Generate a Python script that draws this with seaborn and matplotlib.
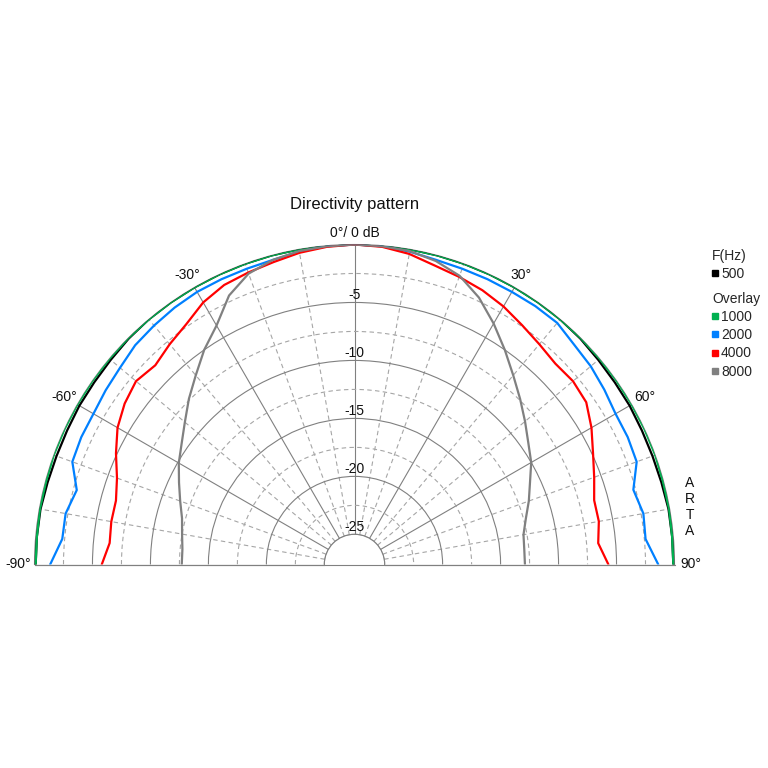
import numpy as np
import matplotlib
matplotlib.use("Agg")
import matplotlib.pyplot as plt
from matplotlib.lines import Line2D
import seaborn as sns

# ---------------- data (dB relative to 0 deg) ----------------
angles_deg = [-90, -85, -80, -75, -70, -65, -60, -55, -50, -45, -40, -35, -30, -25, -20, -15, -10, -5,
              0, 5, 10, 15, 20, 25, 30, 35, 40, 45, 50, 55, 60, 65, 70, 75, 80, 85, 90]

f500 = [-0.1, -0.1, -0.1, -0.2, -0.25, -0.25, -0.2, -0.2, -0.15, -0.05, 0.0, 0.0, 0.0, 0.0, 0.0, 0.0, 0.0, 0.0,
        0.0, 0.0, 0.0, 0.0, 0.0, 0.0, 0.0, 0.0, 0.0, -0.05, -0.15, -0.2, -0.2, -0.25, -0.25, -0.2, -0.1, -0.1, -0.1]

f1000 = [-0.1, -0.1, -0.05, -0.05, 0.0, 0.0, 0.0, 0.0, 0.0, 0.0, 0.0, 0.0, 0.0, 0.0, 0.0, 0.0, 0.0, 0.0,
         0.0, 0.0, 0.0, 0.0, 0.0, 0.0, 0.0, 0.0, 0.0, 0.0, 0.0, 0.0, 0.0, 0.0, 0.0, -0.05, -0.05, -0.1, -0.1]

f2000 = [-1.35, -2.3, -2.3, -2.8, -1.7, -1.6, -1.6, -1.4, -1.2, -0.85, -0.7, -0.55, -0.45, -0.45, -0.45, -0.4, -0.2, -0.05,
         0.0, -0.05, -0.2, -0.4, -0.45, -0.45, -0.45, -0.4, -0.4, -0.8, -1.0, -1.3, -1.6, -1.6, -1.7, -2.7, -2.3, -2.4, -1.4]

f4000 = [-5.8, -6.4, -6.3, -6.3, -5.8, -4.9, -4.0, -3.4, -3.0, -3.3, -2.8, -2.3, -1.5, -1.0, -0.8, -0.6, -0.3, -0.1,
         0.0, -0.1, -0.4, -0.9, -1.2, -1.5, -1.9, -2.4, -2.8, -3.1, -3.0, -3.2, -4.0, -4.9, -5.6, -6.2, -6.2, -6.5, -5.7]

f8000 = [-12.7, -12.7, -12.5, -12.2, -11.6, -10.9, -10.1, -9.4, -8.5, -7.4, -6.3, -5.0, -3.8, -2.0, -0.9, -0.4, -0.15, -0.05,
         0.0, -0.05, -0.15, -0.5, -1.1, -2.2, -3.6, -5.0, -6.3, -7.4, -8.4, -9.3, -10.0, -10.9, -11.6, -12.3, -12.8, -12.9, -12.9]

freq_labels = ["500", "1000", "2000", "4000", "8000"]
series = [f500, f1000, f2000, f4000, f8000]
colors = ["#000000", "#00B050", "#0080FF", "#FF0000", "#808080"]

r_major = [-25, -20, -15, -10, -5, 0]
r_minor = [-22.5, -17.5, -12.5, -7.5, -2.5]
r_labels = [-5, -10, -15, -20, -25]
theta_major = [-90, -60, -30, 0, 30, 60, 90]
theta_minor = [-80, -70, -50, -40, -20, -10, 10, 20, 40, 50, 70, 80]
theta_labels = ["-90°", "-60°", "-30°", "0°/ 0 dB", "30°", "60°", "90°"]

# ---------------- style ----------------
sns.set_style("white")
plt.rcParams['font.family'] = ['Liberation Sans', 'DejaVu Sans']

W = 768.0
fig = plt.figure(figsize=(7.68, 7.68), dpi=100)
ax = fig.add_axes([34.5 / W, 43.5 / W, 640 / W, 640 / W], projection='polar')

theta = np.deg2rad(angles_deg)
for vals, col in zip(series, colors):
    sns.lineplot(x=theta, y=vals, ax=ax, color=col, lw=1.6, sort=False,
                 estimator=None, legend=False, zorder=3)

ax.set_theta_zero_location('N')
ax.set_theta_direction(-1)
ax.set_thetamin(-90)
ax.set_thetamax(90)
ax.set_ylim(-25, 0)
ax.set_rorigin(-27.6)
ax.set_xlabel("")
ax.set_ylabel("")

grid_col = "#808080"
dash_col = "#a6a6a6"
ax.set_xticks(np.deg2rad(theta_major))
ax.set_xticks(np.deg2rad(theta_minor), minor=True)
ax.set_yticks(r_major)
ax.set_yticks(r_minor, minor=True)
ax.set_xticklabels([])
ax.set_yticklabels([])
ax.tick_params(which='both', length=0)
ax.grid(which='major', color=grid_col, lw=0.8, ls='-')
ax.grid(which='minor', color=dash_col, lw=0.8, ls=(0, (4, 3)))
for sp in ax.spines.values():
    sp.set_color(grid_col)
    sp.set_linewidth(0.8)
# baseline across the inner hole
ax.plot([0, 1], [0.25, 0.25], transform=ax.transAxes, color=grid_col, lw=0.8, zorder=1, clip_on=False)

# radial labels along 0 deg
for v in r_labels:
    ax.text(0, v + 0.67, str(v), ha='center', va='center', fontsize=10, color='#111111')

# angle labels
offs = [1.4, 1.35, 1.2, 1.0, 1.2, 1.35, 1.4]
for a, lab, o in zip(theta_major, theta_labels, offs):
    ax.text(np.deg2rad(a), o, lab, ha='center', va='center', fontsize=10, color='#111111')

fig.text(355 / W, 1 - 204 / W, "Directivity pattern", ha='center', va='center', fontsize=12, color='#111111')

# ARTA vertical
for ch, y in zip("ARTA", [483, 499, 515, 531]):
    fig.text(690 / W, 1 - y / W, ch, ha='center', va='center', fontsize=10, color='#111111')

# legends
def handle(c):
    return Line2D([], [], ls='none', marker='s', markersize=4, markerfacecolor=c, markeredgecolor=c)

leg_kw = dict(loc='upper left', frameon=False, fontsize=10, title_fontsize=10, handlelength=0.5,
              handletextpad=0.15, borderpad=0, borderaxespad=0, labelspacing=0.3, alignment='left')
fig.legend([handle(colors[0])], [freq_labels[0]], title="F(Hz)",
           bbox_to_anchor=(712 / W, 1 - 249 / W), **leg_kw)
fig.legend([handle(c) for c in colors[1:]], freq_labels[1:], title="Overlay",
           bbox_to_anchor=(712 / W, 1 - 292 / W), **leg_kw)

fig.savefig("out.png", dpi=100, facecolor='white')
